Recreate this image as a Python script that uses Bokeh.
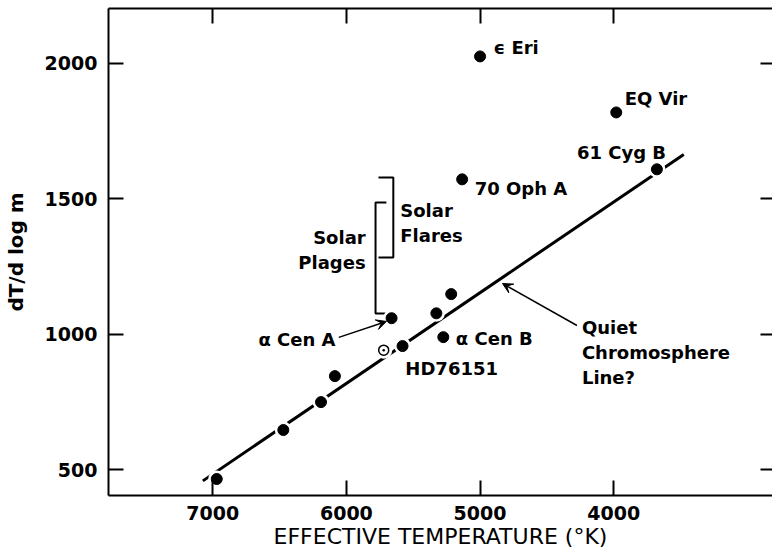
from bokeh.plotting import figure
from bokeh.models import Range1d, FixedTicker, LinearAxis, Arrow, VeeHead, Label, ColumnDataSource
from bokeh.embed import file_html
from bokeh.resources import INLINE

# ---- data ----
teff = [6970, 6472, 6190, 6086, 5580, 5662, 5327, 5216, 5275, 5134, 5000, 3981, 3677]
dtdlogm = [465, 646, 749, 845, 956, 1059, 1077, 1148, 989, 1572, 2026, 1819, 1609]
sun_teff = [5721]
sun_val = [941]
line_teff = [7074, 3476]
line_val = [458, 1664]
flares_teff = [5760, 5649, 5649, 5760]
flares_val = [1579, 1579, 1283, 1283]
plages_teff = [5701, 5782, 5782, 5701]
plages_val = [1486, 1486, 1076, 1076]
x_ticks = [7000, 6000, 5000, 4000]
y_ticks = [500, 1000, 1500, 2000]

labels_left = [
    ("ϵ Eri", 4899, 2059),
    ("EQ Vir", 3918, 1871),
    ("61 Cyg B", 4275, 1671),
    ("70 Oph A", 5040, 1538),
    ("Solar", 5597, 1457),
    ("Flares", 5597, 1365),
    ("α Cen A", 6658, 980),
    ("α Cen B", 5181, 984),
    ("HD76151", 5559, 873),
    ("Quiet", 4238, 1025),
    ("Chromosphere", 4238, 932),
    ("Line?", 4238, 840),
]
labels_right = [
    ("Solar", 5856, 1357),
    ("Plages", 5856, 1265),
]
arrows = [
    (6057, 988, 5701, 1047),
    (4275, 1032, 4832, 1187),
]

FONT = "DejaVu Sans"

p = figure(width=772, height=553, output_backend="svg", toolbar_location=None,
           x_range=Range1d(7780, 2812), y_range=Range1d(404, 2203),
           min_border_left=103, min_border_right=0, min_border_top=8, min_border_bottom=58,
           x_axis_label="EFFECTIVE TEMPERATURE (°K)", y_axis_label="dT/d log m")
p.grid.grid_line_color = None
p.outline_line_color = None
p.background_fill_color = "white"
p.border_fill_color = "white"

for ax in p.xaxis + p.yaxis:
    ax.axis_line_width = 2
    ax.axis_line_color = "black"
    ax.major_tick_line_width = 2
    ax.major_tick_line_color = "black"
    ax.major_tick_out = 0
    ax.major_tick_in = 15
    ax.minor_tick_line_color = None
    ax.major_label_text_font = FONT
    ax.major_label_text_font_style = "bold"
    ax.major_label_text_font_size = "19px"
    ax.major_label_text_color = "black"
    ax.axis_label_text_font = FONT
    ax.axis_label_text_font_size = "20px"
    ax.axis_label_text_color = "black"

p.xaxis.ticker = FixedTicker(ticks=x_ticks)
p.yaxis.ticker = FixedTicker(ticks=y_ticks)
p.xaxis.major_label_standoff = 10
p.xaxis.axis_label_standoff = 1
p.xaxis.axis_label_text_font_style = "normal"
p.xaxis.axis_label_text_font_size = "22px"
p.yaxis.major_label_standoff = 11
p.yaxis.axis_label_standoff = 14
p.yaxis.axis_label_text_font_style = "bold"

top = LinearAxis(ticker=FixedTicker(ticks=x_ticks), major_label_text_font_size="1px",
                 major_label_text_color=None,
                 major_tick_out=0, major_tick_in=15, major_tick_line_width=2,
                 axis_line_width=2, minor_tick_line_color=None, major_label_standoff=0)
p.add_layout(top, "above")
right = LinearAxis(ticker=FixedTicker(ticks=y_ticks), major_label_text_font_size="1px",
                   major_label_text_color=None,
                   major_tick_out=0, major_tick_in=12, major_tick_line_width=2,
                   axis_line_color=None, minor_tick_line_color=None, major_label_standoff=0)
p.add_layout(right, "right")

# quiet chromosphere line
p.line(line_teff, line_val, line_width=3, line_color="black")

# brackets
p.line(flares_teff, flares_val, line_width=2, line_color="black")
p.line(plages_teff, plages_val, line_width=2, line_color="black")

# stars: white halo then black dot
src = ColumnDataSource(dict(x=teff, y=dtdlogm))
p.scatter("x", "y", source=src, size=17, fill_color="white", line_color=None)
p.scatter("x", "y", source=src, size=11, fill_color="black", line_color="black")
p.scatter(sun_teff, sun_val, size=17, fill_color="white", line_color=None)
p.scatter(sun_teff, sun_val, marker="circle_dot", size=10, fill_color="white",
          line_color="black", line_width=1.5)

for x0, y0, x1, y1 in arrows:
    p.add_layout(Arrow(x_start=x0, y_start=y0, x_end=x1, y_end=y1, line_width=1.5,
                       line_color="black",
                       end=VeeHead(size=10, fill_color="black", line_color="black", line_width=1)))

for txt, x, y in labels_left:
    p.add_layout(Label(x=x, y=y, text=txt, text_align="left", text_baseline="middle",
                       text_font=FONT, text_font_style="bold", text_font_size="18px",
                       text_color="black"))
for txt, x, y in labels_right:
    p.add_layout(Label(x=x, y=y, text=txt, text_align="right", text_baseline="middle",
                       text_font=FONT, text_font_style="bold", text_font_size="18px",
                       text_color="black"))

open("out.html", "w").write(file_html(p, INLINE))
